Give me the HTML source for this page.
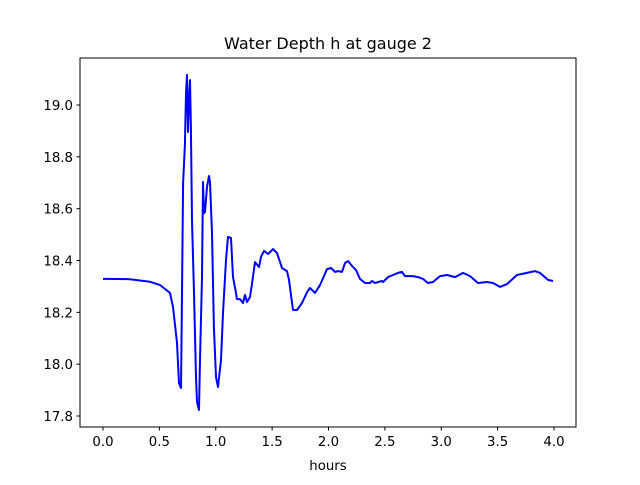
<!DOCTYPE html>
<html><head><meta charset="utf-8"><style>
body{margin:0;background:#fff}
svg text{font-family:"DejaVu Sans","Liberation Sans",sans-serif;fill:#000}
</style></head><body>
<svg id="chart" width="640" height="480" xmlns="http://www.w3.org/2000/svg">
<rect width="640" height="480" fill="#fff"/>
<text x="328" y="49" font-size="16" text-anchor="middle">Water Depth h at gauge 2</text>
<g id="xt"></g>
<g id="yt"></g>
<text x="328" y="470" font-size="13.3" text-anchor="middle">hours</text>
<path id="line" fill="none" stroke="#0000ff" stroke-width="2" stroke-linejoin="round"/>
<rect x="80" y="58" width="496" height="369" fill="none" stroke="#000" stroke-width="1"/>
</svg>
<script>
const times=[0,0.239,0.417,0.506,0.594,0.621,0.656,0.674,0.692,0.701,0.710,0.727,0.727,0.736,0.745,0.754,0.763,0.772,0.780,0.789,0.807,0.825,0.834,0.851,0.860,0.878,0.887,0.896,0.905,0.922,0.940,0.949,0.967,0.984,1.002,1.020,1.047,1.064,1.091,1.109,1.135,1.153,1.180,1.188,1.215,1.242,1.259,1.277,1.304,1.322,1.348,1.384,1.401,1.428,1.464,1.508,1.543,1.588,1.632,1.650,1.685,1.721,1.765,1.810,1.836,1.880,1.925,1.987,2.022,2.058,2.084,2.120,2.146,2.173,2.208,2.244,2.279,2.324,2.368,2.386,2.412,2.474,2.483,2.528,2.572,2.616,2.652,2.678,2.749,2.794,2.838,2.882,2.927,2.989,3.051,3.122,3.193,3.255,3.326,3.406,3.459,3.521,3.583,3.672,3.760,3.831,3.876,3.947,3.991];
const depths=[18.329,18.328,18.318,18.305,18.275,18.221,18.082,17.927,17.908,18.275,18.699,18.853,18.865,19.046,19.116,18.896,19.019,19.096,18.915,18.556,18.275,17.950,17.854,17.823,18.016,18.336,18.703,18.583,18.587,18.684,18.726,18.703,18.506,18.143,17.950,17.912,18.016,18.197,18.402,18.491,18.487,18.336,18.275,18.251,18.251,18.236,18.267,18.240,18.259,18.313,18.394,18.375,18.414,18.437,18.425,18.444,18.429,18.371,18.359,18.325,18.209,18.209,18.236,18.278,18.294,18.275,18.305,18.367,18.371,18.356,18.359,18.356,18.390,18.398,18.379,18.363,18.329,18.313,18.313,18.321,18.313,18.321,18.317,18.336,18.344,18.352,18.356,18.340,18.340,18.336,18.329,18.313,18.317,18.340,18.344,18.336,18.352,18.340,18.313,18.317,18.313,18.298,18.309,18.344,18.352,18.359,18.352,18.325,18.321];
const xTicks=[0,0.5,1,1.5,2,2.5,3,3.5,4];
const xTickLabels=["0.0","0.5","1.0","1.5","2.0","2.5","3.0","3.5","4.0"];
const yTicks=[17.8,18.0,18.2,18.4,18.6,18.8,19.0];
const yTickLabels=["17.8","18.0","18.2","18.4","18.6","18.8","19.0"];
const X=t=>103+t*112.75;
const Y=h=>105+(19-h)*259.17;
const NS="http://www.w3.org/2000/svg";
const xt=document.getElementById('xt'),yt=document.getElementById('yt');
xTicks.forEach((v,i)=>{
 const l=document.createElementNS(NS,'line');
 
 
 l.setAttribute('x1',X(v));l.setAttribute('x2',X(v));l.setAttribute('y1',427);l.setAttribute('y2',430.5);l.setAttribute('stroke','#000');
 xt.appendChild(l);
 const t=document.createElementNS(NS,'text');
 
 
 t.setAttribute('x',X(v));t.setAttribute('y',446);t.setAttribute('font-size','13.3');t.setAttribute('text-anchor','middle');
 t.textContent=xTickLabels[i];xt.appendChild(t);
});
yTicks.forEach((v,i)=>{
 const l=document.createElementNS(NS,'line');
 
 
 l.setAttribute('x1',76.5);l.setAttribute('x2',80);l.setAttribute('y1',Y(v));l.setAttribute('y2',Y(v));l.setAttribute('stroke','#000');
 yt.appendChild(l);
 const t=document.createElementNS(NS,'text');
 
 
 t.setAttribute('x',73);t.setAttribute('y',Y(v)+5);t.setAttribute('font-size','13.3');t.setAttribute('text-anchor','end');
 t.textContent=yTickLabels[i];yt.appendChild(t);
});
document.getElementById('line').setAttribute('d',times.map((t,i)=>(i?'L':'M')+X(t).toFixed(1)+','+Y(depths[i]).toFixed(1)).join(''));
</script>
</body></html>
